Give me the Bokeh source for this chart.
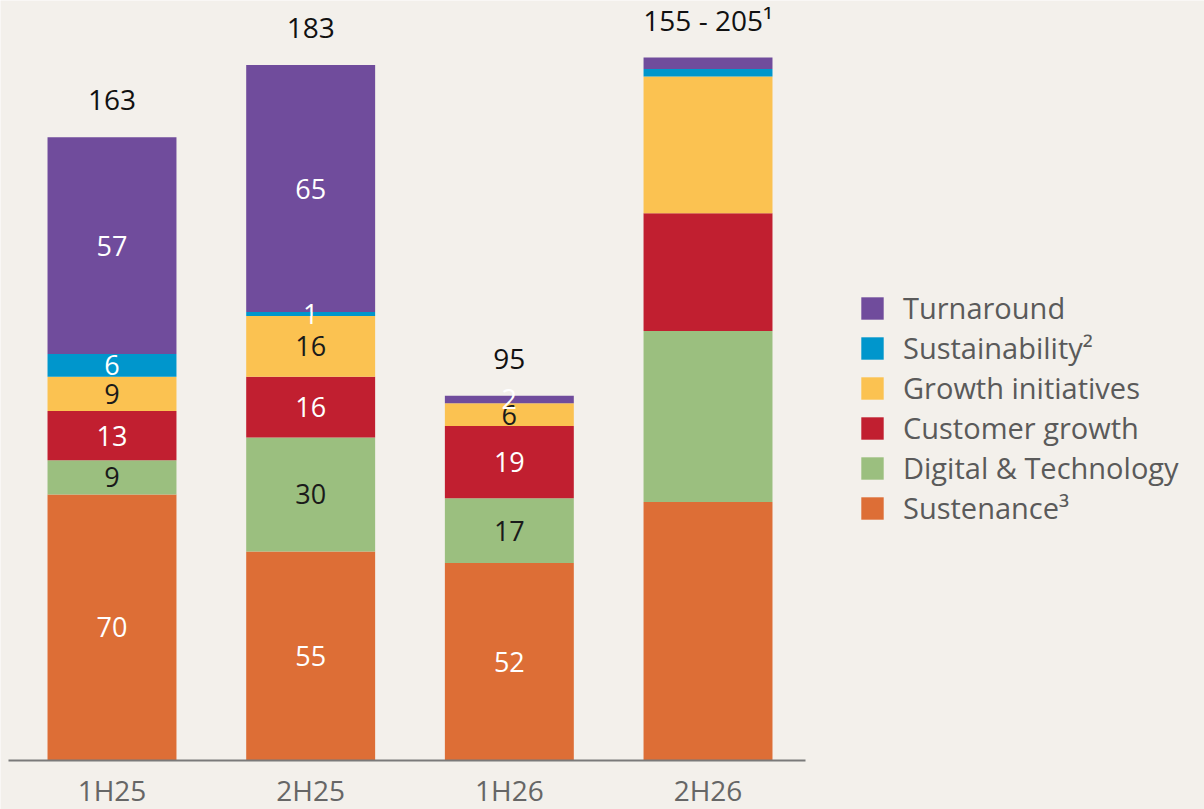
from bokeh.plotting import figure
from bokeh.models import ColumnDataSource, Range1d, FixedTicker, Legend, LegendItem
from bokeh.core.properties import value
from bokeh.embed import file_html
from bokeh.resources import INLINE

categories = ["1H25", "2H25", "1H26", "2H26"]
sustenance = [70, 55, 52, 68]
digital = [9, 30, 17, 45]
customer = [13, 16, 19, 31]
growth = [9, 16, 6, 36]
sustainability = [6, 1, 0, 2]
turnaround = [57, 65, 2, 3]
total_labels = ["163", "183", "95", "155 - 205\u00b9"]
labelled_bars = 3  # segment values are printed for the first three bars only

series_keys = ["sustenance", "digital", "customer", "growth", "sustainability", "turnaround"]
series_names = ["Sustenance\u00b3", "Digital & Technology", "Customer growth",
                "Growth initiatives", "Sustainability\u00b2", "Turnaround"]
series_vals = [sustenance, digital, customer, growth, sustainability, turnaround]
colors = ["#dd6e36", "#9bbf7f", "#c11f30", "#fbc251", "#0096cc", "#704c9c"]
label_colors = ["#ffffff", "#1a1a1a", "#ffffff", "#1a1a1a", "#ffffff", "#ffffff"]

FONT = "Open Sans"
BG = "#f3f0eb"

xs = list(range(len(categories)))
data = {"x": xs}
for k, v in zip(series_keys, series_vals):
    data[k] = v
src = ColumnDataSource(data)

p = figure(width=1204, height=809, output_backend="svg", toolbar_location=None,
           x_range=Range1d(-0.5612, 5.499), y_range=Range1d(-12.895, 200.0),
           min_border_left=0, min_border_right=0, min_border_top=0, min_border_bottom=0,
           background_fill_color=BG, border_fill_color=BG, outline_line_color=None)

renderers = p.vbar_stack(series_keys, x="x", width=0.649, color=colors, source=src,
                         line_color=None)

# segment labels
lx, ly, lt, lc = [], [], [], []
for si, vals in enumerate(series_vals):
    for i in range(labelled_bars):
        v = vals[i]
        if v <= 0:
            continue
        base = sum(series_vals[j][i] for j in range(si))
        lx.append(xs[i])
        ly.append(base + v / 2)
        lt.append(str(v))
        lc.append(label_colors[si])
lsrc = ColumnDataSource(dict(x=lx, y=ly, t=lt, c=lc))
p.text(x="x", y="y", text="t", text_color="c", source=lsrc, text_align="center",
       text_baseline="middle", text_font=value(FONT), text_font_size="27px")

# totals
tops = [sum(s[i] for s in series_vals) for i in range(len(categories))]
tsrc = ColumnDataSource(dict(x=xs, y=tops, t=total_labels))
p.text(x="x", y="y", text="t", source=tsrc, text_align="center", text_baseline="middle",
       y_offset=-37, text_font=value(FONT), text_font_size="28px", text_color="#111111")

# axes
p.yaxis.visible = False
p.xgrid.visible = False
p.ygrid.visible = False
xa = p.xaxis[0]
xa.fixed_location = 0
xa.bounds = (-0.521, 3.491)
xa.ticker = FixedTicker(ticks=xs)
xa.major_label_overrides = {i: c for i, c in zip(xs, categories)}
xa.major_tick_line_color = None
xa.major_tick_out = 0
xa.major_tick_in = 0
xa.minor_tick_line_color = None
xa.axis_line_color = "#7a7a7a"
xa.axis_line_width = 2
xa.major_label_standoff = 11
xa.major_label_text_font = FONT
xa.major_label_text_font_size = "28px"
xa.major_label_text_color = "#666666"

items = [LegendItem(label=n, renderers=[r]) for n, r in zip(series_names, renderers)]
items = items[::-1]
legend = Legend(items=items, location=(858, 282), orientation="vertical",
                glyph_width=28, glyph_height=28, label_height=28, label_standoff=17,
                spacing=1, padding=0, margin=0, border_line_color=None,
                background_fill_alpha=0, label_text_font=FONT,
                label_text_font_size="29px", label_text_color="#5a5a5a",
                label_text_baseline="middle")
p.add_layout(legend, "center")

open("out.html", "w").write(file_html(p, INLINE))
